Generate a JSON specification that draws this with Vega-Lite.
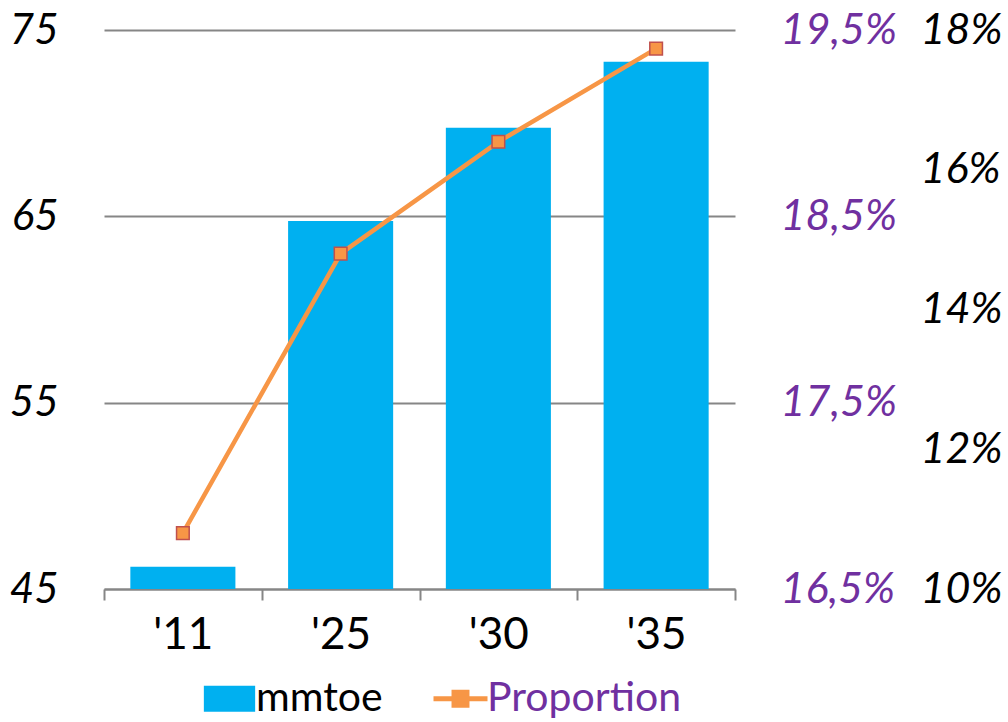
{
  "$schema": "https://vega.github.io/schema/vega-lite/v6.json",
  "width": 631,
  "height": 559,
  "autosize": {"type": "none"},
  "padding": {"left": 104, "top": 30, "right": 273, "bottom": 133},
  "background": "white",
  "config": {"view": {"stroke": null}, "font": "Lato"},
  "data": {"values": [
    {"year": "'11", "mmtoe": 46.2, "proportion": 16.8},
    {"year": "'25", "mmtoe": 64.75, "proportion": 18.3},
    {"year": "'30", "mmtoe": 69.75, "proportion": 18.9},
    {"year": "'35", "mmtoe": 73.3, "proportion": 19.4}
  ]},
  "encoding": {
    "x": {
      "field": "year", "type": "nominal", "sort": null,
      "scale": {"paddingInner": 0, "paddingOuter": 0},
      "axis": {"title": null, "labelAngle": 0, "tickBand": "extent", "domainColor": "#868686", "domainWidth": 2, "tickColor": "#868686", "tickWidth": 2, "tickSize": 11, "labelFontSize": 44, "labelColor": "black", "labelPadding": 13, "labelFont": "Lato"}
    }
  },
  "layer": [
    {
      "mark": {"type": "bar", "width": {"band": 0.666}},
      "encoding": {
        "y": {"field": "mmtoe", "type": "quantitative", "scale": {"domain": [45, 75], "zero": false, "nice": false},
          "axis": {"values": [45, 55, 65, 75], "grid": true, "gridColor": "#868686", "gridWidth": 2, "domain": false, "ticks": false, "labelFontSize": 42, "labelFontStyle": "italic", "labelPadding": 46, "labelColor": "black", "title": null}},
        "y2": {"datum": 45},
        "color": {
          "datum": "mmtoe", "type": "nominal",
          "scale": {"domain": ["mmtoe", "Proportion"], "range": ["#00B0F0", "#F79646"]},
          "legend": {
            "orient": "none", "legendX": 105, "legendY": 648, "direction": "horizontal", "title": null,
            "labelFontSize": 41, "labelColor": "black", "labelLimit": 0, "symbolSize": 2916, "labelOffset": 6, "columnPadding": 40,
            "encode": {
              "symbols": {"update": {
                "shape": {"signal": "datum.value === 'mmtoe' ? 'M-0.95,-0.48H0.95V0.48H-0.95Z' : 'M-1,0H1M-0.24,-0.24H0.24V0.24H-0.24Z'"},
                "fill": {"signal": "datum.value === 'mmtoe' ? '#00B0F0' : '#F79646'"},
                "stroke": {"signal": "datum.value === 'mmtoe' ? '#00B0F0' : '#F79646'"},
                "strokeWidth": {"signal": "datum.value === 'mmtoe' ? 0 : 5"},
                "opacity": {"value": 1}
              }},
              "labels": {"update": {"fill": {"signal": "datum.value === 'Proportion' ? '#7030A0' : 'black'"}}}
            }
          }
        }
      }
    },
    {
      "mark": {"type": "line", "strokeWidth": 4.5, "point": {"shape": "square", "size": 160, "filled": true, "stroke": "#C0504D", "strokeWidth": 1.5}},
      "encoding": {
        "y": {"field": "proportion", "type": "quantitative", "scale": {"domain": [16.5, 19.5], "zero": false, "nice": false},
          "axis": {"orient": "right", "grid": false, "domain": false, "ticks": false, "values": [16.5, 17.5, 18.5, 19.5], "labelExpr": "replace(format(datum.value, '.1f'), '.', ',') + '%'", "labelColor": "#7030A0", "labelFontSize": 43, "labelFontStyle": "italic", "labelPadding": 45, "title": null}},
        "color": {"datum": "Proportion", "type": "nominal"}
      }
    },
    {
      "mark": {"type": "point", "opacity": 0},
      "encoding": {
        "y": {"datum": 0.1, "type": "quantitative", "scale": {"domain": [0.1, 0.18], "zero": false, "nice": false},
          "axis": {"orient": "right", "offset": 185, "grid": false, "domain": false, "ticks": false, "values": [0.1, 0.12, 0.14, 0.16, 0.18], "format": ".0%", "labelColor": "black", "labelFontSize": 43, "labelFontStyle": "italic", "labelPadding": 0, "title": null}}
      }
    }
  ],
  "resolve": {"scale": {"y": "independent"}}
}
